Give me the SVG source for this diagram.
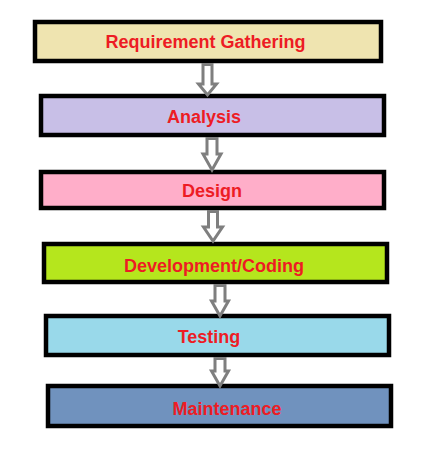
<svg xmlns="http://www.w3.org/2000/svg" width="424" height="450" viewBox="0 0 424 450">
<style>
.box{stroke:#000;stroke-width:4.5}
.lbl{font-family:"Liberation Sans",Arial,sans-serif;font-weight:bold;font-size:18px;fill:#ED1C24;text-anchor:middle}
.arr{fill:#fff;stroke:#7F7F7F;stroke-width:3;stroke-linejoin:miter}
</style>
<rect width="424" height="450" fill="#fff"/>
<g id="n1"><rect class="box" x="35" y="22" width="346" height="39" fill="#EFE4B0"/><text class="lbl" x="205.5" y="48">Requirement Gathering</text></g>
<g id="n2"><rect class="box" x="41" y="96" width="343" height="39" fill="#C8BFE7"/><text class="lbl" x="204" y="123">Analysis</text></g>
<g id="n3"><rect class="box" x="41" y="172" width="343" height="36" fill="#FFAEC9"/><text class="lbl" x="212" y="197">Design</text></g>
<g id="n4"><rect class="box" x="44" y="244" width="343" height="38" fill="#B5E61D"/><text class="lbl" x="214" y="271.5">Development/Coding</text></g>
<g id="n5"><rect class="box" x="46" y="316" width="343" height="39" fill="#99D9EA"/><text class="lbl" x="209" y="343">Testing</text></g>
<g id="n6"><rect class="box" x="48" y="386" width="343" height="40" fill="#7092BE"/><text class="lbl" x="227" y="415">Maintenance</text></g>
<g id="connectors">
<path class="arr" d="M203,64.5 H212 V84 H216.5 L207.5,95 L198.5,84 H203 Z"/>
<path class="arr" d="M207,138.5 H217 V154 H221 L212,170 L203,154 H207 Z"/>
<path class="arr" d="M208.5,211.5 H217.5 V227 H222.5 L213,241 L203.5,227 H208.5 Z"/>
<path class="arr" d="M215,285.5 H225 V301 H228.5 L220,316 L211.5,301 H215 Z"/>
<path class="arr" d="M215,358.5 H225 V371 H228.5 L220,386 L211.5,371 H215 Z"/>
</g>
</svg>
